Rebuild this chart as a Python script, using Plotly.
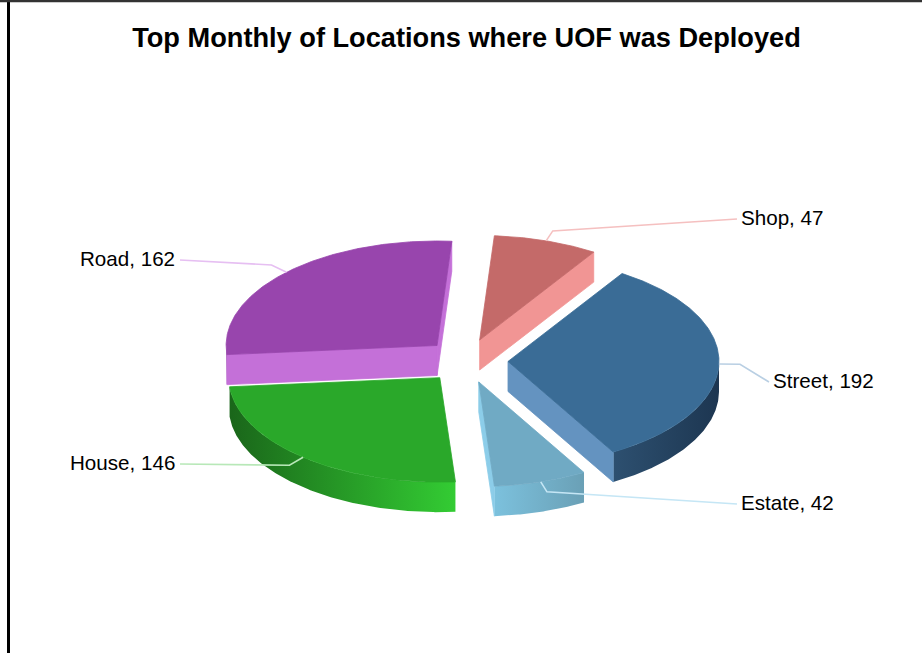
import math
import plotly.graph_objects as go

# ---------------- data ----------------
categories = ["Shop", "Street", "Estate", "House", "Road"]
values = [47, 192, 42, 146, 162]
title_text = "Top Monthly of Locations where UOF was Deployed"

# ---------------- styles ----------------
top_colors = ["#c46a69", "#3a6c96", "#70aac4", "#2aa82a", "#9845ad"]
face_colors = ["#f19594", "#6493c0", "#8ccde9", "#33cc33", "#c470d8"]
wall_left = ["#f19594", "#2d5070", "#7cc1dd", "#1a661a", "#7a3590"]
wall_right = ["#f19594", "#1d3651", "#6aa0b6", "#33cc33", "#7a3590"]
line_colors = ["#f5c0c0", "#b9cfe3", "#c5e6f5", "#b8e8b8", "#e6bff2"]

# ---------------- layout geometry (pixels) ----------------
W, H = 922, 653
CX, CY = 466.6, 360.9
RX, RY = 211.0, 104.5
DEPTH = 30.0
EXPLODE_X, EXPLODE_Y = 41.4, 22.0
START_DEG = 4.0
ELBOW = 1.1
label_x = [737, 769, 737, 180, 180]
label_y = [219, 382, 504, 464, 260]
FONT = "Liberation Sans, Arial, sans-serif"


def rim(ax, ay, deg, scale=1.0):
    t = math.radians(deg)
    return ax + RX * scale * math.sin(t), ay - RY * scale * math.cos(t)


def arc(ax, ay, a0, a1, dy=0.0):
    n = max(2, int(abs(a1 - a0) / 0.5) + 1)
    xs, ys = [], []
    for i in range(n):
        d = a0 + (a1 - a0) * i / (n - 1)
        x, y = rim(ax, ay, d)
        xs.append(x)
        ys.append(y + dy)
    return xs, ys


total = float(sum(values))
slices = []
acc = START_DEG
for i, v in enumerate(values):
    a0 = acc
    a1 = acc + 360.0 * v / total
    acc = a1
    mid = (a0 + a1) / 2
    tm = math.radians(mid)
    ax = CX + EXPLODE_X * math.sin(tm)
    ay = CY - EXPLODE_Y * math.cos(tm)
    slices.append(dict(i=i, a0=a0, a1=a1, mid=mid, ax=ax, ay=ay))

fig = go.Figure()


def poly(xs, ys, color, grad=None):
    kw = dict(x=xs + [xs[0]], y=ys + [ys[0]], mode="lines", fill="toself",
              line=dict(color=color, width=0.8), hoverinfo="skip",
              showlegend=False)
    if grad:
        kw["fillgradient"] = dict(type="horizontal",
                                  colorscale=[[0, grad[0]], [1, grad[1]]])
        kw["line"] = dict(width=0)
    else:
        kw["fillcolor"] = color
    fig.add_trace(go.Scatter(**kw))


# back-to-front painter order
order = sorted(slices, key=lambda s: -math.cos(math.radians(s["mid"])))
for s in order:
    i, a0, a1, ax, ay = s["i"], s["a0"], s["a1"], s["ax"], s["ay"]
    # outer wall (front half 90..270)
    lo, hi = max(a0, 90.0), min(a1, 270.0)
    if hi > lo:
        tx, ty = arc(ax, ay, lo, hi)
        bx, by = arc(ax, ay, hi, lo, DEPTH)
        poly(tx + bx, ty + by, top_colors[i], grad=(wall_left[i], wall_right[i]))
    # radial faces
    for ang, is_start in ((a0, True), (a1, False)):
        sn = math.sin(math.radians(ang))
        visible = sn < 0 if is_start else sn > 0
        if visible:
            rx_, ry_ = rim(ax, ay, ang)
            poly([ax, rx_, rx_, ax], [ay, ry_, ry_ + DEPTH, ay + DEPTH], face_colors[i])
    # top face
    tx, ty = arc(ax, ay, a0, a1)
    poly([ax] + tx, [ay] + ty, top_colors[i])

# leader lines and labels
annotations = []
for s in slices:
    i = s["i"]
    p0 = rim(s["ax"], s["ay"], s["mid"])
    p1 = rim(s["ax"], s["ay"], s["mid"], ELBOW)
    p2 = (label_x[i], label_y[i])
    fig.add_trace(go.Scatter(x=[p0[0], p1[0], p2[0]], y=[p0[1], p1[1], p2[1]],
                             mode="lines", line=dict(color=line_colors[i], width=1.6),
                             hoverinfo="skip", showlegend=False))
    right = math.sin(math.radians(s["mid"])) >= 0
    annotations.append(dict(
        x=p2[0] + (2 if right else -3), y=p2[1], xref="x", yref="y", yshift=1.5,
        text=f"{categories[i]}, {values[i]}", showarrow=False,
        xanchor="left" if right else "right", yanchor="middle",
        font=dict(family=FONT, size=20.6, color="#000000")))

fig.update_layout(
    width=W, height=H, margin=dict(l=0, r=0, t=0, b=0),
    paper_bgcolor="white", plot_bgcolor="white",
    xaxis=dict(range=[0, W], visible=False, fixedrange=True),
    yaxis=dict(range=[H, 0], visible=False, fixedrange=True),
    showlegend=False, hovermode=False,
    title=dict(text=title_text, x=466.5 / W, xref="container", xanchor="center",
               y=1 - 37.5 / H, yref="container", yanchor="middle",
               font=dict(family=FONT, size=27.2, color="#000000", weight="bold")),
    annotations=annotations,
    shapes=[
        dict(type="line", xref="x", yref="y", x0=8.5, x1=8.5, y0=0, y1=H,
             line=dict(color="#000000", width=3)),
        dict(type="line", xref="x", yref="y", x0=0, x1=W, y0=1, y1=1,
             line=dict(color="#333333", width=2.5)),
    ],
)

fig.write_html("out.html", config={"displayModeBar": False},
               post_script="document.body.style.margin='0';document.body.style.overflow='hidden';")
